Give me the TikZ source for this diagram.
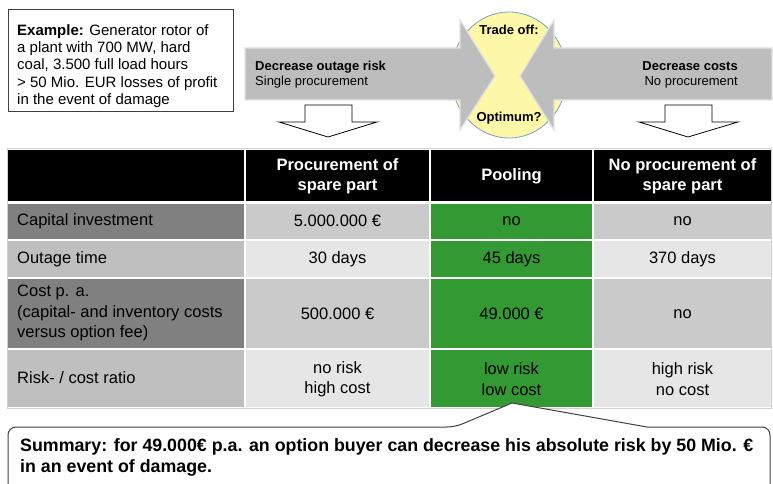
\documentclass[tikz,border=0pt]{standalone}
\usepackage{fontspec}
\setmainfont{Liberation Sans}
\usetikzlibrary{shadows}
\definecolor{arrgray}{HTML}{BDBDBD}
\definecolor{arredge}{HTML}{E2E2E2}
\definecolor{yell}{HTML}{FCF8A8}
\definecolor{yelledge}{HTML}{7F9FBF}
\definecolor{dkcell}{HTML}{808080}
\definecolor{mdcell}{HTML}{BFBFBF}
\definecolor{ltcell}{HTML}{CACACA}
\definecolor{vltcell}{HTML}{E6E6E6}
\definecolor{grn}{HTML}{339933}
\definecolor{boxedge}{HTML}{404040}
\definecolor{tabedge}{HTML}{D0D0D0}
\begin{document}
\begin{tikzpicture}[x=1pt,y=-1pt,
  exfont/.style={font=\fontsize{15}{17.2}\selectfont},
  arrfont/.style={font=\fontsize{13}{15}\selectfont},
  tabfont/.style={font=\fontsize{16.5}{20.5}\selectfont},
  hdfont/.style={font=\fontsize{16.5}{20.5}\selectfont\bfseries, text=white},
  sumfont/.style={font=\fontsize{17.8}{21}\selectfont\bfseries},
  bigarrow/.style={fill=arrgray, draw=arredge, line width=1.2pt},
  downarrow/.style={fill=white, draw=black, line width=0.8pt},
  tcell/.style={inner sep=0pt, align=center}]
\useasboundingbox (0,0) rectangle (773,484);
\clip (0,0) rectangle (773,484);

% Example box
\draw[boxedge, line width=1pt, fill=white] (8,10) rectangle (233,112);
\node[exfont, anchor=west, align=left, inner sep=0pt] (ex) at (17,66)
  {\textbf{Example:} Generator rotor of\\a plant with 700 MW, hard\\coal, 3.500 full load hours\\> 50 Mio. EUR losses of profit\\in the event of damage};

% Trade-off ellipse
\draw[fill=yell, draw=yelledge, line width=0.8pt] (509,75) ellipse [x radius=58, y radius=63];

% Big arrows
\draw[bigarrow] (245,48) -- (460,48) -- (460,20) -- (495,76) -- (460,130) -- (460,100) -- (245,100) -- cycle;
\draw[bigarrow] (772,48) -- (554,48) -- (554,20) -- (520,76) -- (554,130) -- (554,100) -- (772,100) -- cycle;

\node[arrfont, anchor=west, align=left, inner sep=0pt] (la) at (255,75)
  {\textbf{Decrease outage risk}\\Single procurement};
\node[arrfont, anchor=east, align=right, inner sep=0pt] (ra) at (738,75)
  {\textbf{Decrease costs}\\No procurement};
\node[arrfont, font=\fontsize{13}{15}\selectfont\bfseries, inner sep=0pt] (to) at (509,30) {Trade off:};
\node[arrfont, font=\fontsize{13}{15}\selectfont\bfseries, inner sep=0pt] (op) at (509,118) {Optimum?};

% Down arrows
\draw[downarrow] (305,105) -- (352,105) -- (352,122) -- (377,122) -- (328,137) -- (279,122) -- (305,122) -- cycle;
\draw[downarrow] (665,105) -- (712,105) -- (712,122) -- (738,122) -- (688,137) -- (639,122) -- (665,122) -- cycle;

% Table background
\fill[tabedge] (7,148) rectangle (772,409);
\fill[white] (8,149) rectangle (771,408);
% header row
\fill[black] (8,150) rectangle (244,201);
\fill[black] (246,150) rectangle (429,201);
\fill[black] (431,150) rectangle (592,201);
\fill[black] (594,150) rectangle (771,201);
% row 1
\fill[dkcell] (8,204) rectangle (244,239);
\fill[ltcell] (246,204) rectangle (429,239);
\fill[grn] (431,204) rectangle (592,239);
\fill[ltcell] (594,204) rectangle (771,239);
% row 2
\fill[mdcell] (8,241) rectangle (244,277);
\fill[vltcell] (246,241) rectangle (429,277);
\fill[grn] (431,241) rectangle (592,277);
\fill[vltcell] (594,241) rectangle (771,277);
% row 3
\fill[dkcell] (8,279) rectangle (244,348);
\fill[ltcell] (246,279) rectangle (429,348);
\fill[grn] (431,279) rectangle (592,348);
\fill[ltcell] (594,279) rectangle (771,348);
% row 4
\fill[mdcell] (8,350) rectangle (244,407);
\fill[vltcell] (246,350) rectangle (429,407);
\fill[grn] (431,350) rectangle (592,407);
\fill[vltcell] (594,350) rectangle (771,407);

% header text
\node[hdfont, tcell] (h1) at (337.5,176) {Procurement of\\spare part};
\node[hdfont, tcell] (h2) at (511.5,176) {Pooling};
\node[hdfont, tcell] (h3) at (682.5,176) {No procurement of\\spare part};

% row labels
\node[tabfont, anchor=west, inner sep=0pt] (l1) at (17,221) {Capital investment};
\node[tabfont, anchor=west, inner sep=0pt] (l2) at (17,259) {Outage time};
\node[tabfont, anchor=west, align=left, inner sep=0pt] (l3) at (17,313) {Cost p. a.\\(capital- and inventory costs\\versus option fee)};
\node[tabfont, anchor=west, inner sep=0pt] (l4) at (17,378) {Risk- / cost ratio};

% values
\node[tabfont, tcell] (v11) at (337.5,221) {5.000.000 €};
\node[tabfont, tcell] (v12) at (511.5,221) {no};
\node[tabfont, tcell] (v13) at (682.5,221) {no};
\node[tabfont, tcell] (v21) at (337.5,259) {30 days};
\node[tabfont, tcell] (v22) at (511.5,259) {45 days};
\node[tabfont, tcell] (v23) at (682.5,259) {370 days};
\node[tabfont, tcell] (v31) at (337.5,314) {500.000 €};
\node[tabfont, tcell] (v32) at (511.5,314) {49.000 €};
\node[tabfont, tcell] (v33) at (682.5,314) {no};
\node[tabfont, tcell] (v41) at (337.5,379) {no risk\\high cost};
\node[tabfont, tcell] (v42) at (511.5,379) {low risk\\low cost};
\node[tabfont, tcell] (v43) at (682.5,379) {high risk\\no cost};

% Summary callout
\draw[boxedge, line width=1pt, fill=white, rounded corners=8pt]
  (8,500) -- (8,427) -- (455,427) [sharp corners] -- (512,403) -- (647,427) [rounded corners=8pt] -- (770,427) -- (770,500);
\node[sumfont, anchor=west, align=left, inner sep=0pt] (sum) at (20,457)
  {Summary: for 49.000€ p.a. an option buyer can decrease his absolute risk by 50 Mio. €\\in an event of damage.};
\end{tikzpicture}
\end{document}
